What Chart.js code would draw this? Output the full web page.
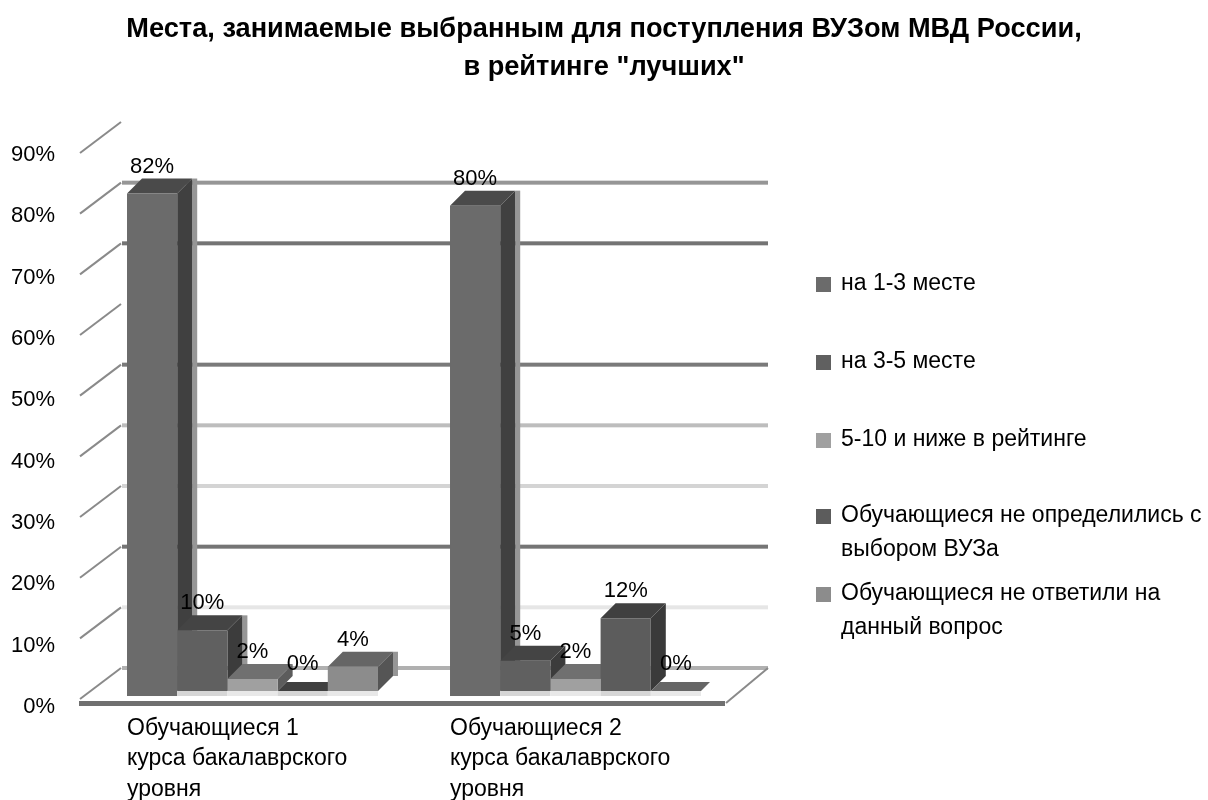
<!DOCTYPE html>
<html>
<head>
<meta charset="utf-8">
<script src="https://cdn.jsdelivr.net/npm/chart.js@4"></script>
<style>
body { margin: 0; background: #fff; }
#wrap { width: 1208px; height: 800px; }
</style>
</head>
<body>
<div id="wrap"><canvas id="placesChart" width="1208" height="800"></canvas></div>
<script>
var categories = [
    ["Обучающиеся 1", "курса бакалаврского", "уровня"],
    ["Обучающиеся 2", "курса бакалаврского", "уровня"]
];
var top13 = [82, 80];
var top35 = [10, 5];
var lowRank = [2, 2];
var undecided = [0, 12];
var other = [4, 0];
var tickValues = [0, 10, 20, 30, 40, 50, 60, 70, 80, 90];
var wallValues = [0, 10, 20, 30, 40, 50, 70, 80];
var wallColors = ["#b0b0b0", "#e6e6e6", "#757575", "#d4d4d4", "#bdbdbd", "#7a7a7a", "#747474", "#969696"];
var legendLines = [
    ["на 1-3 месте"],
    ["на 3-5 месте"],
    ["5-10 и ниже в рейтинге"],
    ["Обучающиеся не определились с", "выбором ВУЗа"],
    ["Обучающиеся не ответили на", "данный вопрос"]
];
var legendY = [284, 362, 440, 516, 594];
var sideColors = ["#404040", "#3c3c3c", "#5c5c5c", "#3a3a3a", "#555555"];
var topColors = ["#4a4a4a", "#444444", "#707070", "#404040", "#666666"];
var floorColors = ["#6b6b6b", "#d6d6d6", "#e8e8e8", "#d6d6d6", "#e8e8e8"];

var depthPlugin = {
    id: "depth",
    beforeDatasetsDraw: function (chart) {
        var ctx = chart.ctx;
        var y = chart.scales.y;
        ctx.save();

        // back wall lines
        wallValues.forEach(function (v, i) {
            var py = y.getPixelForValue(v) - 23;
            ctx.fillStyle = wallColors[i];
            ctx.fillRect(122, py - 2, 646, 4);
        });

        // diagonal ticks on the left side
        ctx.strokeStyle = "#8a8a8a";
        ctx.lineWidth = 2;
        tickValues.forEach(function (v) {
            var py = y.getPixelForValue(v) - 23;
            ctx.beginPath();
            ctx.moveTo(80, py + 31);
            ctx.lineTo(121, py);
            ctx.stroke();
        });
        ctx.beginPath();
        ctx.moveTo(726, 703);
        ctx.lineTo(768, 668);
        ctx.stroke();

        // floor front edge
        ctx.fillStyle = "#707070";
        ctx.fillRect(79, 701, 646, 5);

        var count = chart.data.labels.length;
        for (var c = 0; c < count; c++) {
            chart.data.datasets.forEach(function (ds, s) {
                var bar = chart.getDatasetMeta(s).data[c];
                var left = bar.x - bar.width / 2;
                var right = bar.x + bar.width / 2;
                var d = ds.data[c] === 0 ? 9 : 15;

                ctx.fillStyle = floorColors[s];
                ctx.fillRect(left, bar.base, bar.width, 5);

                if ((s === 0) || (c === 0 && (s === 1 || s === 4))) {
                    ctx.fillStyle = "#969696";
                    ctx.fillRect(right + d, bar.y - d, 5, bar.base - bar.y);
                }

                ctx.fillStyle = topColors[s];
                ctx.beginPath();
                ctx.moveTo(left, bar.y);
                ctx.lineTo(left + d, bar.y - d);
                ctx.lineTo(right + d, bar.y - d);
                ctx.lineTo(right, bar.y);
                ctx.closePath();
                ctx.fill();

                ctx.fillStyle = sideColors[s];
                ctx.beginPath();
                ctx.moveTo(right, bar.y);
                ctx.lineTo(right + d, bar.y - d);
                ctx.lineTo(right + d, bar.base - d);
                ctx.lineTo(right, bar.base);
                ctx.closePath();
                ctx.fill();
            });
        }
        ctx.restore();
    },
    afterDatasetsDraw: function (chart) {
        var ctx = chart.ctx;
        ctx.save();
        ctx.fillStyle = "#000";
        ctx.textAlign = "center";
        ctx.textBaseline = "middle";
        ctx.font = "22px 'Liberation Sans'";
        chart.data.datasets.forEach(function (ds, s) {
            chart.getDatasetMeta(s).data.forEach(function (bar, c) {
                ctx.fillText(ds.data[c] + "%", bar.x, bar.y - 27);
            });
        });

        // legend, lines wrap so the built in one does not fit
        ctx.font = "23px 'Liberation Sans'";
        ctx.textAlign = "left";
        chart.data.datasets.forEach(function (ds, s) {
            ctx.fillStyle = ds.backgroundColor;
            ctx.fillRect(816, legendY[s] - 7, 15, 15);
            ctx.fillStyle = "#000";
            legendLines[s].forEach(function (line, i) {
                ctx.fillText(line, 841, legendY[s] + i * 34);
            });
        });
        ctx.restore();
    }
};

function renderPlacesChart() {
    var ctx = document.getElementById("placesChart").getContext("2d");

    new Chart(ctx, {
        type: "bar",
        data: {
            labels: categories,
            datasets: [
                { label: legendLines[0][0], data: top13, backgroundColor: "#6b6b6b" },
                { label: legendLines[1][0], data: top35, backgroundColor: "#606060" },
                { label: legendLines[2][0], data: lowRank, backgroundColor: "#a0a0a0" },
                { label: legendLines[3][0], data: undecided, backgroundColor: "#5c5c5c" },
                { label: legendLines[4][0], data: other, backgroundColor: "#8c8c8c" }
            ]
        },
        options: {
            responsive: false,
            animation: false,
            categoryPercentage: 0.777,
            barPercentage: 1,
            plugins: {
                legend: { display: false },
                tooltip: { enabled: false },
                title: {
                    display: true,
                    text: [
                        "Места, занимаемые выбранным для поступления ВУЗом МВД России,",
                        "в рейтинге \"лучших\""
                    ],
                    color: "#000",
                    font: { family: "Liberation Sans", size: 27.2, weight: "bold", lineHeight: 1.397 },
                    padding: { top: 11, bottom: 58 }
                }
            },
            scales: {
                x: {
                    grid: { display: false, drawTicks: false },
                    border: { display: false },
                    ticks: {
                        color: "#000",
                        align: "start",
                        labelOffset: -125.5,
                        maxRotation: 0,
                        autoSkip: false,
                        padding: 1,
                        font: { family: "Liberation Sans", size: 23, lineHeight: 1.33 }
                    },
                    afterFit: function (scale) { scale.height = 88; }
                },
                y: {
                    display: false,
                    min: -3.46,
                    max: 90
                },
                yLabels: {
                    position: "left",
                    min: -0.815,
                    max: 91.63,
                    grid: { display: false },
                    border: { display: false },
                    afterBuildTicks: function (scale) {
                        scale.ticks = tickValues.map(function (v) { return { value: v }; });
                    },
                    ticks: {
                        color: "#000",
                        autoSkip: false,
                        padding: 28,
                        font: { family: "Liberation Sans", size: 22 },
                        callback: function (v) { return v + "%"; }
                    },
                    afterFit: function (scale) { scale.width = 91; }
                },
                // keeps the legend column free while the title stays centred on the page
                legendSpace: {
                    position: "right",
                    grid: { display: false },
                    border: { display: false },
                    ticks: { display: false },
                    afterFit: function (scale) { scale.width = 471; }
                }
            }
        },
        plugins: [depthPlugin]
    });
}

document.addEventListener("DOMContentLoaded", function () {
    renderPlacesChart();
});
</script>
</body>
</html>
